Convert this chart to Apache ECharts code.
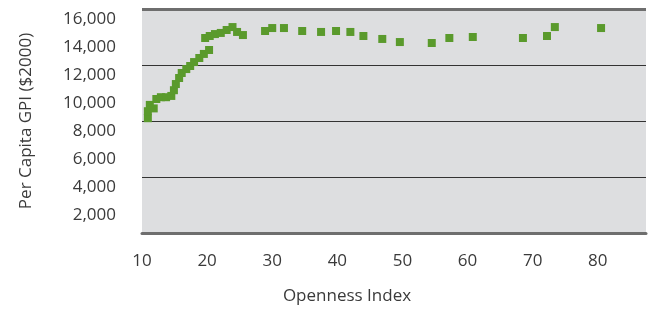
<!DOCTYPE html>
<html>
<head>
<meta charset="utf-8">
<script src="https://cdn.jsdelivr.net/npm/echarts@6/dist/echarts.min.js"></script>
<style>
html,body{margin:0;padding:0;background:#fff;}
#chart{width:666px;height:316px;}
</style>
</head>
<body>
<div id="chart"></div>
<script>
// openness index (x) vs per capita GPI (y)
var openness = [10.9, 10.9, 11.2, 11.8, 12.2, 12.9, 13.7, 14.5, 14.9, 15.2, 15.7, 16.1, 16.8, 17.4, 18.0, 18.8, 19.5, 20.3,
	19.7, 20.4, 21.2, 22.1, 23.0, 23.9, 24.6, 25.5, 28.9, 30.0, 31.8, 34.6, 37.5, 39.8, 42.0, 44.0, 46.9, 49.6,
	54.5, 57.2, 60.8, 68.5, 72.2, 73.4, 80.5];
var gpi = [8200, 8700, 9150, 8900, 9570, 9700, 9700, 9790, 10200, 10640, 11070, 11430, 11710, 11930, 12210, 12500, 12790, 13070,
	13930, 14070, 14210, 14290, 14500, 14710, 14360, 14140, 14430, 14640, 14640, 14430, 14360, 14430, 14360, 14070, 13860, 13640,
	13570, 13930, 14000, 13930, 14070, 14710, 14640];

var textFont = '"Open Sans", "Noto Sans", sans-serif';
var textColor = '#3a3a3a';

(function () {
	"use strict";
	var chart = echarts.init(document.getElementById('chart'));
	var points = [];
	openness.forEach(function (x, i) {
		points.push([x, gpi[i]]);
	});

	var option = {
		backgroundColor: '#fff',
		animation: false,
		grid: {
			left: 142,
			right: 20,
			top: 9,
			bottom: 83,
			show: true,
			backgroundColor: '#dddee0',
			borderWidth: 0
		},
		xAxis: {
			type: 'value',
			min: 10,
			max: 87.4,
			interval: 10,
			name: 'Openness Index',
			nameLocation: 'middle',
			nameGap: 55,
			nameTextStyle: { fontFamily: textFont, fontSize: 17, color: textColor, padding: [0, 94, 0, 0] },
			axisLine: { show: true, lineStyle: { color: '#6e6e6e', width: 3 } },
			axisTick: { show: false },
			splitLine: { show: false },
			axisLabel: { showMaxLabel: false, margin: 20, fontFamily: textFont, fontSize: 17, color: textColor }
		},
		yAxis: [
			{
				type: 'value',
				min: 0,
				max: 16000,
				interval: 2000,
				name: 'Per Capita GPI ($2000)',
				nameLocation: 'middle',
				nameGap: 107,
				nameTextStyle: { fontFamily: textFont, fontSize: 17, color: textColor },
				axisLine: { show: false },
				axisTick: { show: false },
				splitLine: { show: false },
				axisLabel: {
					showMinLabel: false,
					margin: 26,
					verticalAlign: 'top',
					lineHeight: 20,
					fontFamily: textFont,
					fontSize: 17,
					color: textColor,
					formatter: function (v) {
						return v.toLocaleString('en-US');
					}
				}
			},
			{
				// grid lines every 4000
				type: 'value',
				position: 'left',
				min: 0,
				max: 16000,
				interval: 4000,
				axisLine: { show: false },
				axisTick: { show: false },
				axisLabel: { show: false },
				splitLine: { show: true, showMinLine: false, showMaxLine: false, lineStyle: { color: '#333333', width: 1.2 } }
			},
			{
				// top border at 16000
				type: 'value',
				position: 'right',
				min: 0,
				max: 16000,
				interval: 16000,
				axisLine: { show: false },
				axisTick: { show: false },
				axisLabel: { show: false },
				splitLine: { show: true, showMinLine: false, showMaxLine: true, lineStyle: { color: '#6e6e6e', width: 3 } }
			}
		],
		series: [
			{
				type: 'scatter',
				symbol: 'rect',
				symbolSize: 8,
				itemStyle: { color: '#5a9a2c', opacity: 1 },
				data: points
			}
		]
	};
	chart.setOption(option);
})();
</script>
</body>
</html>
